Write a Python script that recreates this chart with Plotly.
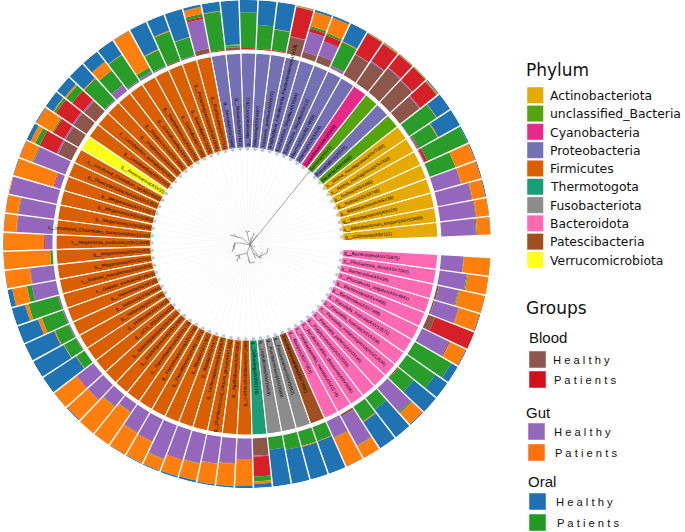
import math
import numpy as np
import plotly.graph_objects as go

W, H = 685, 532
CX, CY, R = 247, 244, 244

tip_labels = [
    "g__Collinsella(ASV111)", "s__Bifidobacterium_longum(ASV15689)", "g__Bifidobacterium(ASV23)", "g__Bifidobacterium(ASV39)",
    "g__Rothia(ASV16746)", "g__Rothia(ASV4485)", "s__Rothia_mucilaginosa(ASV330)", "s__Rothia_mucilaginosa(ASV7294)",
    "Bacteria(ASV4460)", "Pseudolabrys(ASV5)", "Bacteria(ASV1)", "Cyanobacteriales(ASV8)",
    "Haemophilus(ASV4)", "Haemophilus(ASV4439)", "Escherichia_Shigella(ASV12)", "Escherichia_Shigella(ASV594)",
    "Burkholderia_Caballeronia_Paraburkholderia(ASV18)", "Neisseria_perflava(ASV672)", "Neisseria(ASV4497)",
    "g__Neisseria(ASV1361)", "g__Neisseria(ASV7642)", "g__Serratia(ASV2598)",
    "g__Romboutsia(ASV7794)", "g__Peptostreptococcus(ASV1044)", "g__Gemella(ASV2025)", "g__Gemella(ASV7289)",
    "g__Staphylococcus(ASV3251)", "g__Granulicatella(ASV325)", "g__Streptococcus(ASV1826)", "g__Streptococcus(ASV43)",
    "s__Lactobacillus_animalis(ASV902)", "g__Lactobacillus(ASV2153)", "g__Akkermansia(ASV35)",
    "s__uncultured_Clostridium_sp(ASV4088)", "g__Phascolarctobacterium(ASV1353)", "g__Megamonas(ASV13527)",
    "g__Megamonas(ASV20384)", "g__Megamonas(ASV15308)", "s__uncultured_Clostridiales_bacterium(ASV10703)",
    "s__Megamonas_funiformis(ASV11048)", "g__Megamonas(ASV41283)", "g__Megamonas(ASV12700)",
    "s__Dialister_massiliensis(ASV6458)", "s__Dialister_invisus(ASV4625)", "g__Veillonella(ASV9726)", "g__Veillonella(ASV4684)",
    "g__Veillonella(ASV1346)", "g__Veillonella(ASV2418)", "g__UCG_002(ASV4428)", "g__Subdoligranulum(ASV5142)",
    "g__Subdoligranulum(ASV1563)", "g__Faecalibacterium(ASV3175)", "g__Faecalibacterium(ASV1259)", "g__Faecalibacterium(ASV2673)",
    "g__Blautia(ASV1302)", "g__Blautia(ASV5471)", "g__Lachnospiraceae(ASV3007)", "g__[Ruminococcus]_torques_group(ASV1288)",
    "g__Agathobacter(ASV7003)", "g__Lachnoclostridium(ASV1248)",
    "g__Defluviitoga(ASV2178)", "g__Leptotrichia(ASV16469)", "g__Fusobacterium(ASV2680)", "g__Fusobacterium(ASV5842)",
    "Saccharimonadales(ASV7692)", "g__Alistipes(ASV7364)", "s__Parabacteroides_merdae(ASV2274)", "s__Parabacteroides_distasonis(ASV3996)",
    "g__Porphyromonas(ASV2034)", "s__Prevotella_pallens(ASV3446)", "s__Prevotella_melaninogenica(ASV12634)",
    "s__Prevotella_histicola(ASV5338)", "s__Prevotella_histicola(ASV13571)", "g__Bacteroides(ASV7486)", "g__Bacteroides(ASV4466)",
    "s__Phocaeicola_vulgatus(ASV4941)", "g__Bacteroides(ASV36)", "s__Phocaeicola_dorei(ASV7247)", "g__Bacteroides(ASV25825)",
]

phylum_names = ["Actinobacteriota", "unclassified_Bacteria", "Cyanobacteria", "Proteobacteria", "Firmicutes",
                "Thermotogota", "Fusobacteriota", "Bacteroidota", "Patescibacteria", "Verrucomicrobiota"]
phylum_colors = ["#E6AB02", "#55A30F", "#E7298A", "#7570B3", "#D95F02", "#1B9E77", "#8C8C8C", "#FF69B4", "#A0501E", "#FFFF1A"]
tip_phylum_runs = [(0, 8), (1, 1), (3, 1), (1, 1), (2, 1), (3, 10), (4, 10), (9, 1), (4, 27), (5, 1), (6, 3), (8, 1), (7, 14)]

blood_healthy = [0,0,0,0,0,0,0,0,50,60,62,52,48,0,15,12,35,0,0,0,5,0,10,0,0,0,0,0,0,0,30,32,30,30,0,0,0,0,0,0,0,0,0,0,0,0,0,0,0,0,0,0,0,0,0,0,0,0,0,0,35,0,0,0,0,0,5,0,0,0,0,0,0,0,15,3,4,0,0]
gut_healthy = [70,72,70,56,1,2,3,1,2,2,2,2,1,5,30,42,1,0,0,0,0,0,60,3,0,3,5,3,15,3,3,3,3,3,68,13,98,72,72,15,0,47,50,3,3,3,2,0,42,42,30,20,47,50,72,62,60,55,50,42,2,0,0,0,0,35,65,0,0,65,0,0,0,60,0,50,40,55,45]
blood_patients = [0,1,1,0,0,6,2,0,42,35,33,42,48,1,13,7,60,2,2,3,1,2,5,0,2,0,0,0,0,0,28,40,25,38,1,2,0,1,1,2,0,1,0,0,0,0,0,0,1,0,0,0,1,0,1,1,0,0,1,1,40,0,0,0,0,1,1,0,0,0,2,0,0,2,85,1,0,0,0]
oral_patients = [2,1,1,1,55,89,43,66,2,1,1,1,1,52,5,5,1,42,48,72,3,78,6,37,62,35,10,62,37,57,15,5,3,10,2,0,0,1,1,0,5,1,10,62,45,30,27,20,0,0,1,1,1,0,1,0,1,0,1,0,10,25,30,30,30,1,1,35,30,3,40,70,85,1,0,1,2,2,1]
gut_patients = [27,25,26,41,42,0,2,1,2,1,1,2,1,2,33,30,2,1,0,0,2,1,14,1,2,2,84,1,22,2,4,2,37,10,28,84,2,25,25,82,94,50,30,7,8,2,1,1,56,56,69,79,50,48,24,34,35,42,45,53,5,0,0,2,1,62,28,2,0,30,0,0,0,35,0,43,53,43,54]
oral_healthy = [1,1,2,2,2,3,50,32,2,1,1,1,1,40,4,4,1,55,50,25,89,19,5,59,34,60,1,34,26,38,20,18,2,9,1,1,0,1,1,1,1,1,10,28,44,65,70,79,1,2,0,0,1,2,2,3,4,3,3,4,8,75,70,68,69,1,0,63,70,2,58,30,15,2,0,2,1,0,0]

group_names = ["Blood Healthy", "Gut Healthy", "Blood Patients", "Oral Patients", "Gut Patients", "Oral Healthy"]
group_colors = ["#8C564B", "#9467BD", "#D62028", "#2A9C2A", "#FF7F0E", "#1F73B2"]

# tree nodes: offsets from the fan centre, parent node index
tree_dx = [3, 61, 0, -2, 3, -5, -10, -17, -14, -6, -12, -15, -14, -13, 0, -8, -10, -12, -7, 3, 8, 1, 12, 20, 16, 15, 8, 7, 10, 4, 6, 9, 13, 21]
tree_dy = [-1, 71, 12, 13, 13, 6, 7, 9, 10, 1, 1, -8, -3, -6, -9, -11, -18, -12, -15, -19, -18, -15, -13, -9, -8, -14, -3, 11, 9, 7, -9, -15, -14, -4]
tree_parent = [0, 0, 0, 2, 2, 0, 5, 6, 6, 0, 9, 10, 10, 10, 0, 14, 15, 15, 15, 14, 19, 19, 0, 22, 22, 22, 0, 0, 0, 0, 0, 30, 30, 23]

n_tips = len(tip_labels)
first_angle, last_angle = 4.3, 354.6
step = (last_angle - first_angle) / (n_tips - 1)
tip_theta = [first_angle + i * step for i in range(n_tips)]

tip_phylum = []
for idx, count in tip_phylum_runs:
    tip_phylum += [idx] * count

# radial layout of the fan, in pixels of the polar subplot
R_TIP, R_INNER, R_MID, R_RING, R_OUT = 95, 96, 191, 194.5, R

fig = go.Figure()

# faint radial guides
guide_r, guide_t = [], []
for t in tip_theta:
    guide_r += [12, R_TIP, None]
    guide_t += [t, t, None]
fig.add_trace(go.Scatterpolar(r=guide_r, theta=guide_t, mode="lines", line=dict(color="#F1F1F1", width=0.6), hoverinfo="skip", showlegend=False))

# tree
tr, tt = [], []
for i, p in enumerate(tree_parent):
    for j in (p, i):
        tr.append(math.hypot(tree_dx[j], tree_dy[j]))
        tt.append(math.degrees(math.atan2(tree_dy[j], tree_dx[j])))
    tr.append(None)
    tt.append(None)
fig.add_trace(go.Scatterpolar(r=tr, theta=tt, mode="lines", line=dict(color="#808080", width=0.7), hoverinfo="skip", showlegend=False))

# phylum wedges
for k, name in enumerate(phylum_names):
    th = [tip_theta[i] for i in range(n_tips) if tip_phylum[i] == k]
    fig.add_trace(go.Barpolar(r=[R_MID - R_INNER] * len(th), base=[R_INNER] * len(th), theta=th, width=[step] * len(th),
                              marker=dict(color=phylum_colors[k], line=dict(color="white", width=1.1)),
                              name=name, showlegend=False))

# tip points
fig.add_trace(go.Scatterpolar(r=[R_TIP] * n_tips, theta=tip_theta, mode="markers",
                              marker=dict(size=3.5, color="#B9C7D6"), hoverinfo="skip", showlegend=False))

# stacked outer ring
stack = np.array([blood_healthy, gut_healthy, blood_patients, oral_patients, gut_patients, oral_healthy], dtype=float)
stack = stack / stack.sum(axis=0) * (R_OUT - R_RING)
base = np.zeros(n_tips) + R_RING
for g in range(len(group_names)):
    fig.add_trace(go.Barpolar(r=stack[g].tolist(), base=base.tolist(), theta=tip_theta, width=[step - 0.36] * n_tips,
                              marker=dict(color=group_colors[g], line=dict(width=0)), name=group_names[g], showlegend=False))
    base = base + stack[g]


def paper(px, py):
    return px / W, 1 - py / H


annotations, shapes = [], []

# tip labels, rotated along their wedge
TH = 5.5
for i, (lab, t) in enumerate(zip(tip_labels, tip_theta)):
    a = math.radians(t)
    c, s = math.cos(a), math.sin(a)
    rr = 98 if c > 0 else 97
    sx, sy = CX + rr * c, CY - rr * s
    if c > 0:
        xa, ang = "left", -t
        px = sx - TH / 2 * abs(s)
    else:
        xa, ang = "right", 180 - t
        px = sx + TH / 2 * abs(s)
    if s > 0:
        ya = "bottom"
        py = sy + TH / 2 * abs(c)
    else:
        ya = "top"
        py = sy - TH / 2 * abs(c)
    x, y = paper(px, py)
    annotations.append(dict(x=x, y=y, xref="paper", yref="paper", text=lab, showarrow=False, textangle=ang,
                            xanchor=xa, yanchor=ya, borderpad=0, borderwidth=0,
                            font=dict(family="Liberation Sans", size=4.5, color="#000000")))


def add_text(px, py, text, family, size, color="#111111"):
    x, y = paper(px, py)
    annotations.append(dict(x=x, y=y, xref="paper", yref="paper", text=text, showarrow=False, xanchor="left", yanchor="middle",
                            borderpad=0, borderwidth=0, font=dict(family=family, size=size, color=color)))


def add_swatch(px0, py0, size, color):
    x0, y0 = paper(px0, py0)
    x1, y1 = paper(px0 + size, py0 + size)
    shapes.append(dict(type="rect", xref="paper", yref="paper", x0=x0, x1=x1, y0=y0, y1=y1,
                       fillcolor=color, line=dict(width=0.8, color="rgba(255,255,255,0.6)")))


DJ = "DejaVu Sans"
LS = "Liberation Sans"
add_text(526, 70, "Phylum", DJ, 17)
for i, (nm, col) in enumerate(zip(phylum_names, phylum_colors)):
    add_swatch(527, 87 + i * 18.3, 16.5, col)
    add_text(550, 95.5 + i * 18.3, nm, DJ, 12.4)

add_text(526, 308, "Groups", DJ, 17)
legend_blocks = [("Blood", 529, 337, 529, 351, 371, 553, "#8C564B", "#D0101A"),
                 ("Gut", 526, 412, 528, 423, 444, 554, "#9467BD", "#FF6F0A"),
                 ("Oral", 528, 481, 529, 493, 514, 556, "#1F6FB4", "#229A22")]
for title, tx, ty, sx, hy, py_, lx, c1, c2 in legend_blocks:
    add_text(tx, ty, title, LS, 15)
    add_swatch(sx, hy, 17, c1)
    add_swatch(sx, py_, 17, c2)
    add_text(lx, hy + 8.5, "H e a l t h y", LS, 11.2)
    add_text(lx + 1, py_ + 9, "P a t i e n t s", LS, 11.2)

fig.update_layout(
    width=W, height=H, margin=dict(l=0, r=0, t=0, b=0), paper_bgcolor="white", showlegend=False,
    polar=dict(
        domain=dict(x=[(CX - R) / W, (CX + R) / W], y=[1 - (CY + R) / H, 1 - (CY - R) / H]),
        bgcolor="white", barmode="overlay",
        radialaxis=dict(visible=False, range=[0, R]),
        angularaxis=dict(visible=False, direction="counterclockwise", rotation=0),
    ),
    annotations=annotations, shapes=shapes,
)

fig.write_html("out.html", config=dict(displayModeBar=False),
               post_script="document.body.style.margin='0';document.documentElement.style.overflow='hidden';")
